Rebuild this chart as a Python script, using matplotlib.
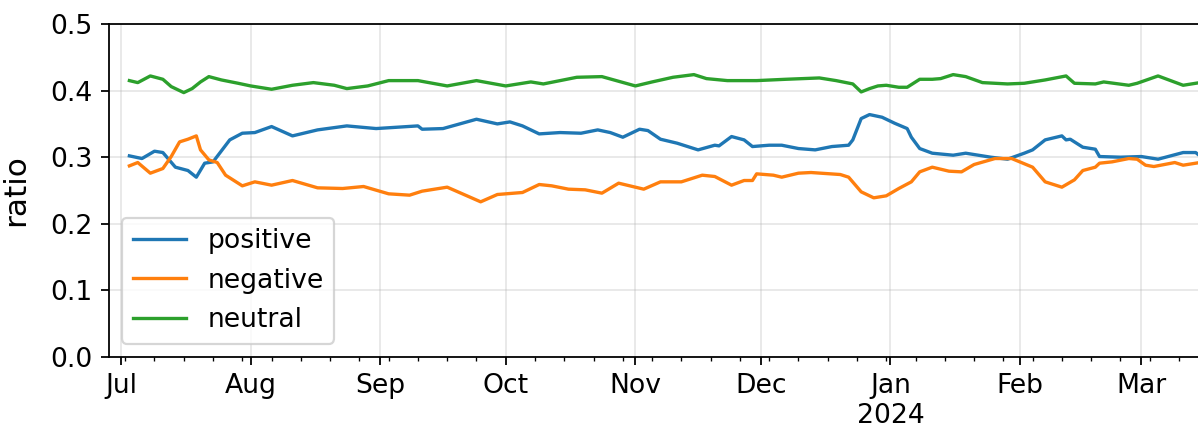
import numpy as np
import pandas as pd
import matplotlib
matplotlib.use("Agg")
import matplotlib.pyplot as plt
import matplotlib.dates as mdates

# values (rolling sentiment ratios)
pos_dates = ["2023-07-03", "2023-07-06", "2023-07-09", "2023-07-11", "2023-07-14", "2023-07-17",
             "2023-07-19", "2023-07-21", "2023-07-23", "2023-07-27", "2023-07-30", "2023-08-02",
             "2023-08-06", "2023-08-11", "2023-08-17", "2023-08-24", "2023-08-31", "2023-09-10",
             "2023-09-11", "2023-09-16", "2023-09-24", "2023-09-29", "2023-10-02", "2023-10-05",
             "2023-10-09", "2023-10-14", "2023-10-19", "2023-10-23", "2023-10-26", "2023-10-29",
             "2023-11-02", "2023-11-04", "2023-11-07", "2023-11-11", "2023-11-16", "2023-11-20",
             "2023-11-21", "2023-11-24", "2023-11-27", "2023-11-29", "2023-12-03", "2023-12-06",
             "2023-12-10", "2023-12-14", "2023-12-18", "2023-12-22", "2023-12-23", "2023-12-25",
             "2023-12-27", "2023-12-30", "2024-01-02", "2024-01-05", "2024-01-06", "2024-01-08",
             "2024-01-11", "2024-01-16", "2024-01-19", "2024-01-25", "2024-01-29", "2024-02-02",
             "2024-02-04", "2024-02-07", "2024-02-11", "2024-02-12", "2024-02-13", "2024-02-16",
             "2024-02-19", "2024-02-20", "2024-02-25", "2024-03-01", "2024-03-05", "2024-03-11",
             "2024-03-14", "2024-03-15"]
positive = [0.302, 0.298, 0.309, 0.307, 0.285, 0.280,
            0.270, 0.291, 0.293, 0.326, 0.336, 0.337,
            0.346, 0.332, 0.341, 0.347, 0.343, 0.347,
            0.342, 0.343, 0.357, 0.350, 0.353, 0.347,
            0.335, 0.337, 0.336, 0.341, 0.337, 0.330,
            0.342, 0.340, 0.327, 0.321, 0.311, 0.318,
            0.317, 0.331, 0.326, 0.316, 0.318, 0.318,
            0.313, 0.311, 0.316, 0.318, 0.326, 0.358,
            0.364, 0.360, 0.351, 0.343, 0.330, 0.313,
            0.306, 0.303, 0.306, 0.300, 0.297, 0.306,
            0.311, 0.326, 0.332, 0.326, 0.327, 0.315,
            0.312, 0.301, 0.300, 0.301, 0.297, 0.307,
            0.307, 0.302]

neg_dates = ["2023-07-03", "2023-07-05", "2023-07-08", "2023-07-11", "2023-07-13", "2023-07-15",
             "2023-07-17", "2023-07-19", "2023-07-20", "2023-07-22", "2023-07-24", "2023-07-26",
             "2023-07-30", "2023-08-02", "2023-08-06", "2023-08-11", "2023-08-17", "2023-08-23",
             "2023-08-28", "2023-09-03", "2023-09-08", "2023-09-11", "2023-09-17", "2023-09-25",
             "2023-09-29", "2023-10-03", "2023-10-05", "2023-10-09", "2023-10-12", "2023-10-16",
             "2023-10-20", "2023-10-24", "2023-10-28", "2023-11-03", "2023-11-07", "2023-11-12",
             "2023-11-17", "2023-11-20", "2023-11-24", "2023-11-27", "2023-11-29", "2023-11-30",
             "2023-12-04", "2023-12-06", "2023-12-10", "2023-12-13", "2023-12-20", "2023-12-22",
             "2023-12-25", "2023-12-28", "2023-12-31", "2024-01-03", "2024-01-06", "2024-01-08",
             "2024-01-11", "2024-01-15", "2024-01-18", "2024-01-21", "2024-01-26", "2024-01-30",
             "2024-02-04", "2024-02-07", "2024-02-11", "2024-02-14", "2024-02-16", "2024-02-19",
             "2024-02-20", "2024-02-23", "2024-02-27", "2024-02-29", "2024-03-02", "2024-03-04",
             "2024-03-09", "2024-03-11", "2024-03-15"]
negative = [0.287, 0.292, 0.276, 0.283, 0.301, 0.323,
            0.327, 0.332, 0.311, 0.296, 0.292, 0.273,
            0.257, 0.263, 0.258, 0.265, 0.254, 0.253,
            0.256, 0.245, 0.243, 0.249, 0.255, 0.233,
            0.244, 0.246, 0.247, 0.259, 0.257, 0.252,
            0.251, 0.246, 0.261, 0.252, 0.263, 0.263,
            0.273, 0.271, 0.258, 0.265, 0.265, 0.275,
            0.273, 0.270, 0.276, 0.277, 0.274, 0.270,
            0.248, 0.239, 0.242, 0.253, 0.263, 0.278,
            0.285, 0.279, 0.278, 0.289, 0.298, 0.298,
            0.285, 0.263, 0.255, 0.266, 0.280, 0.285,
            0.291, 0.293, 0.298, 0.297, 0.288, 0.286,
            0.292, 0.288, 0.292]

neu_dates = ["2023-07-03", "2023-07-05", "2023-07-08", "2023-07-11", "2023-07-13", "2023-07-16",
             "2023-07-18", "2023-07-20", "2023-07-22", "2023-07-25", "2023-07-29", "2023-08-01",
             "2023-08-06", "2023-08-11", "2023-08-16", "2023-08-21", "2023-08-24", "2023-08-29",
             "2023-09-03", "2023-09-10", "2023-09-17", "2023-09-24", "2023-10-01", "2023-10-07",
             "2023-10-10", "2023-10-18", "2023-10-24", "2023-10-28", "2023-11-01", "2023-11-05",
             "2023-11-10", "2023-11-15", "2023-11-18", "2023-11-23", "2023-11-30", "2023-12-07",
             "2023-12-15", "2023-12-19", "2023-12-23", "2023-12-25", "2023-12-27", "2023-12-29",
             "2023-12-31", "2024-01-03", "2024-01-05", "2024-01-08", "2024-01-11", "2024-01-13",
             "2024-01-16", "2024-01-19", "2024-01-23", "2024-01-29", "2024-02-02", "2024-02-07",
             "2024-02-12", "2024-02-14", "2024-02-19", "2024-02-21", "2024-02-27", "2024-02-29",
             "2024-03-05", "2024-03-11", "2024-03-15"]
neutral = [0.415, 0.412, 0.422, 0.417, 0.406, 0.397,
           0.403, 0.413, 0.421, 0.416, 0.411, 0.407,
           0.402, 0.408, 0.412, 0.408, 0.403, 0.407,
           0.415, 0.415, 0.407, 0.415, 0.407, 0.413,
           0.410, 0.420, 0.421, 0.414, 0.407, 0.413,
           0.420, 0.424, 0.418, 0.415, 0.415, 0.417,
           0.419, 0.415, 0.410, 0.398, 0.403, 0.407,
           0.408, 0.405, 0.405, 0.417, 0.417, 0.418,
           0.424, 0.421, 0.412, 0.410, 0.411, 0.416,
           0.422, 0.411, 0.410, 0.413, 0.408, 0.411,
           0.422, 0.408, 0.412]

W, H, DPI = 1198, 429, 160
fig = plt.figure(figsize=(W / DPI, H / DPI), dpi=DPI)
plt.rcParams['font.size'] = 12
ax = fig.add_axes([108.5 / W, (H - 357) / H, (W - 108.5) / W + 0.002, (357 - 24) / H])

ax.plot(pd.to_datetime(pos_dates), positive, color='#1f77b4', lw=1.5, label='positive')
ax.plot(pd.to_datetime(neg_dates), negative, color='#ff7f0e', lw=1.5, label='negative')
ax.plot(pd.to_datetime(neu_dates), neutral, color='#2ca02c', lw=1.5, label='neutral')

ax.set_xlim(pd.Timestamp("2023-06-28"), pd.Timestamp("2024-03-15 03:00"))
ax.set_ylim(0, 0.5)
ax.set_yticks(np.arange(0, 0.51, 0.1))
ax.yaxis.set_major_formatter(plt.FormatStrFormatter('%.1f'))
ax.tick_params(labelsize=12)

ax.xaxis.set_major_locator(mdates.MonthLocator())
ax.xaxis.set_minor_locator(mdates.WeekdayLocator(byweekday=mdates.SU))


def month_fmt(x, pos=None):
    d = mdates.num2date(x)
    return d.strftime('%b\n%Y') if d.month == 1 else d.strftime('%b')


ax.xaxis.set_major_formatter(plt.FuncFormatter(month_fmt))
ax.spines['right'].set_visible(False)
ax.grid(True, which='major', alpha=0.3)
ax.set_ylabel('ratio', fontsize=14, labelpad=9)
ax.legend(loc='lower left', fontsize=12)

fig.savefig('out.png', dpi=DPI)
